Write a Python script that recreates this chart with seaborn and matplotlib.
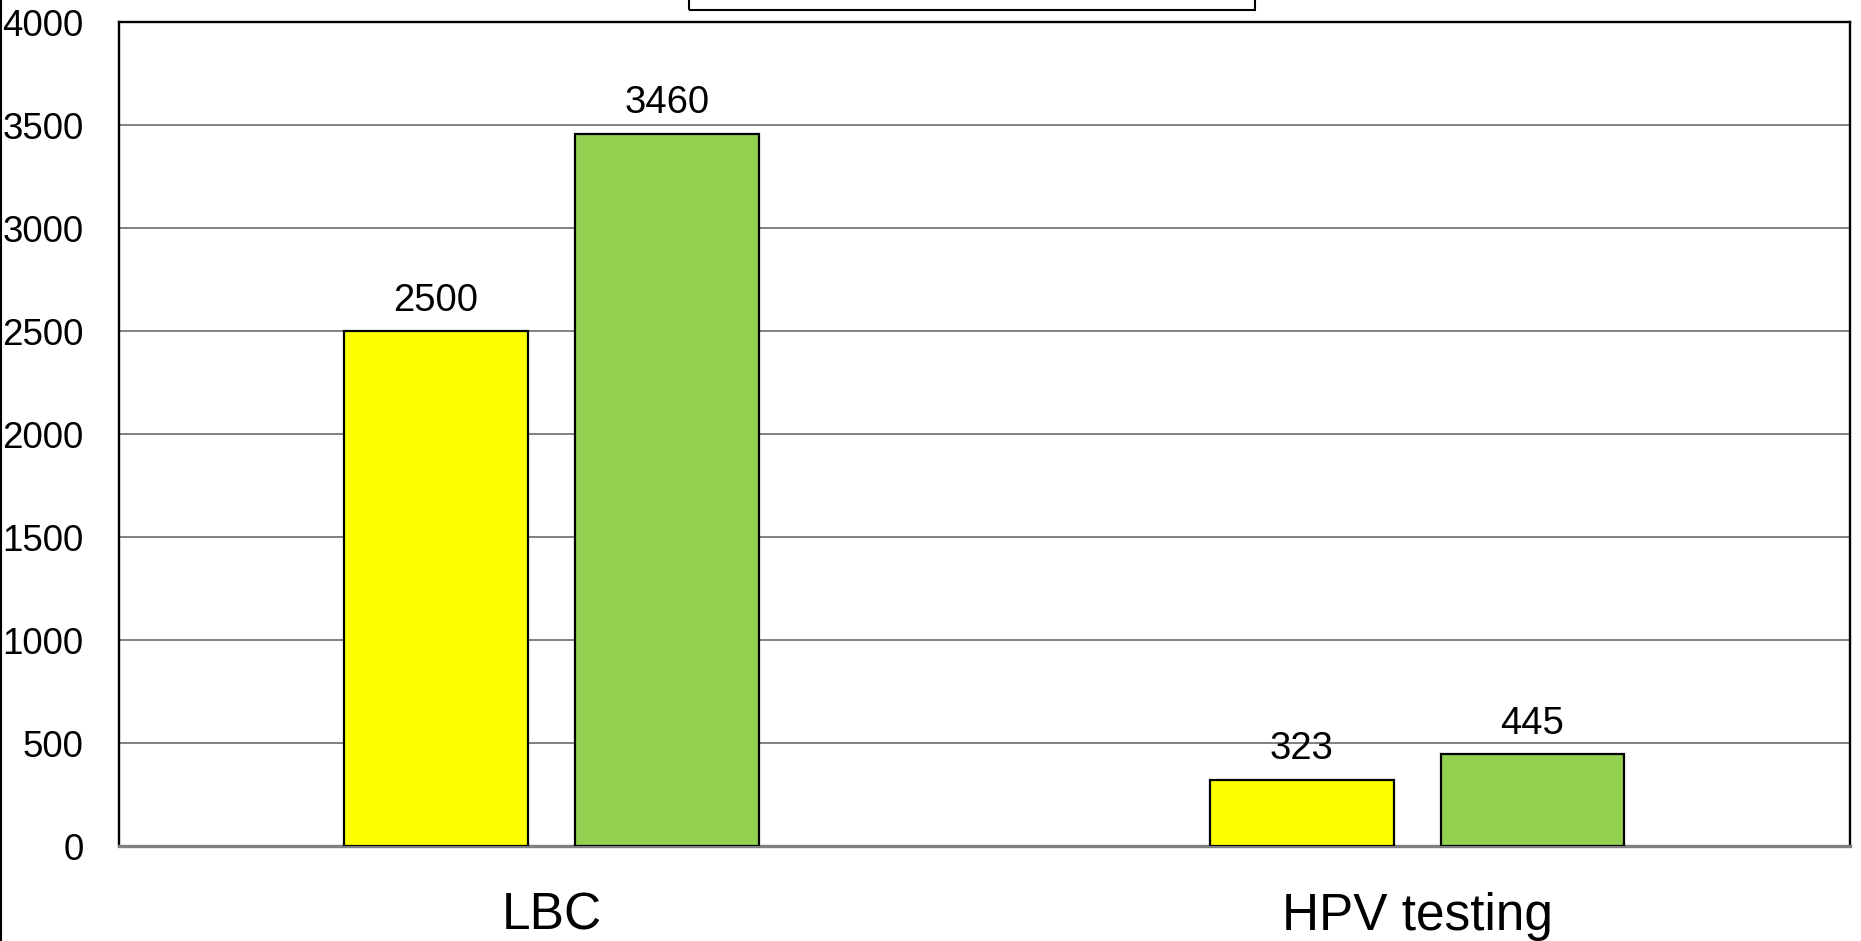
import matplotlib
matplotlib.use("Agg")
import matplotlib.pyplot as plt
import seaborn as sns
import pandas as pd
from matplotlib.patches import Rectangle
from matplotlib.lines import Line2D

categories = ["LBC", "HPV testing"]
series_names = ["Series 1", "Series 2"]
series1_values = [2500, 323]
series2_values = [3460, 445]
yticks = [0, 500, 1000, 1500, 2000, 2500, 3000, 3500, 4000]
colors = ["#FFFF00", "#92D050"]

rows = []
for c, v1, v2 in zip(categories, series1_values, series2_values):
    rows.append({"category": c, "series": series_names[0], "value": v1})
    rows.append({"category": c, "series": series_names[1], "value": v2})
df = pd.DataFrame(rows)

sns.set_theme(style="white")
plt.rcParams["font.family"] = ["Liberation Sans", "DejaVu Sans"]

W, H = 1861, 941
fig = plt.figure(figsize=(W / 100, H / 100), dpi=100)
ax = fig.add_axes([118.5 / W, (H - 846) / H, (1850 - 118.5) / W, (846 - 22.5) / H])

sns.barplot(data=df, x="category", y="value", hue="series", order=categories,
            hue_order=series_names, palette=colors, saturation=1, width=0.533,
            gap=0.203, edgecolor="black", linewidth=1.6, legend=False, ax=ax,
            zorder=3)

ax.set_ylim(0, 4000)
ax.set_yticks(yticks)
ax.set_yticklabels([str(t) for t in yticks])
ax.yaxis.grid(True, color="#808080", linewidth=1.4, zorder=0)
ax.set_axisbelow(True)
ax.set_xlabel("")
ax.set_ylabel("")
ax.tick_params(axis="y", labelsize=26.5, pad=25, length=0, colors="black")
ax.tick_params(axis="x", labelsize=37, pad=33, length=0, colors="black")

for name in ["top", "right", "left"]:
    ax.spines[name].set_color("black")
    ax.spines[name].set_linewidth(1.7)
ax.spines["bottom"].set_color("#808080")
ax.spines["bottom"].set_linewidth(2.4)

for cont in ax.containers:
    ax.bar_label(cont, labels=[f"{int(v)}" for v in cont.datavalues],
                 padding=9, fontsize=27.5, color="black")

# partially visible legend frame at the top and figure border at left
fig.patches.append(Rectangle((689 / W, (H - 10) / H), (1255 - 689) / W, 0.05,
                             transform=fig.transFigure, fill=False,
                             edgecolor="black", linewidth=1.5, clip_on=False))
fig.lines.append(Line2D([1 / W, 1 / W], [0, 1], transform=fig.transFigure,
                        color="black", linewidth=1.5))

fig.savefig("out.png", dpi=100, facecolor="white")
